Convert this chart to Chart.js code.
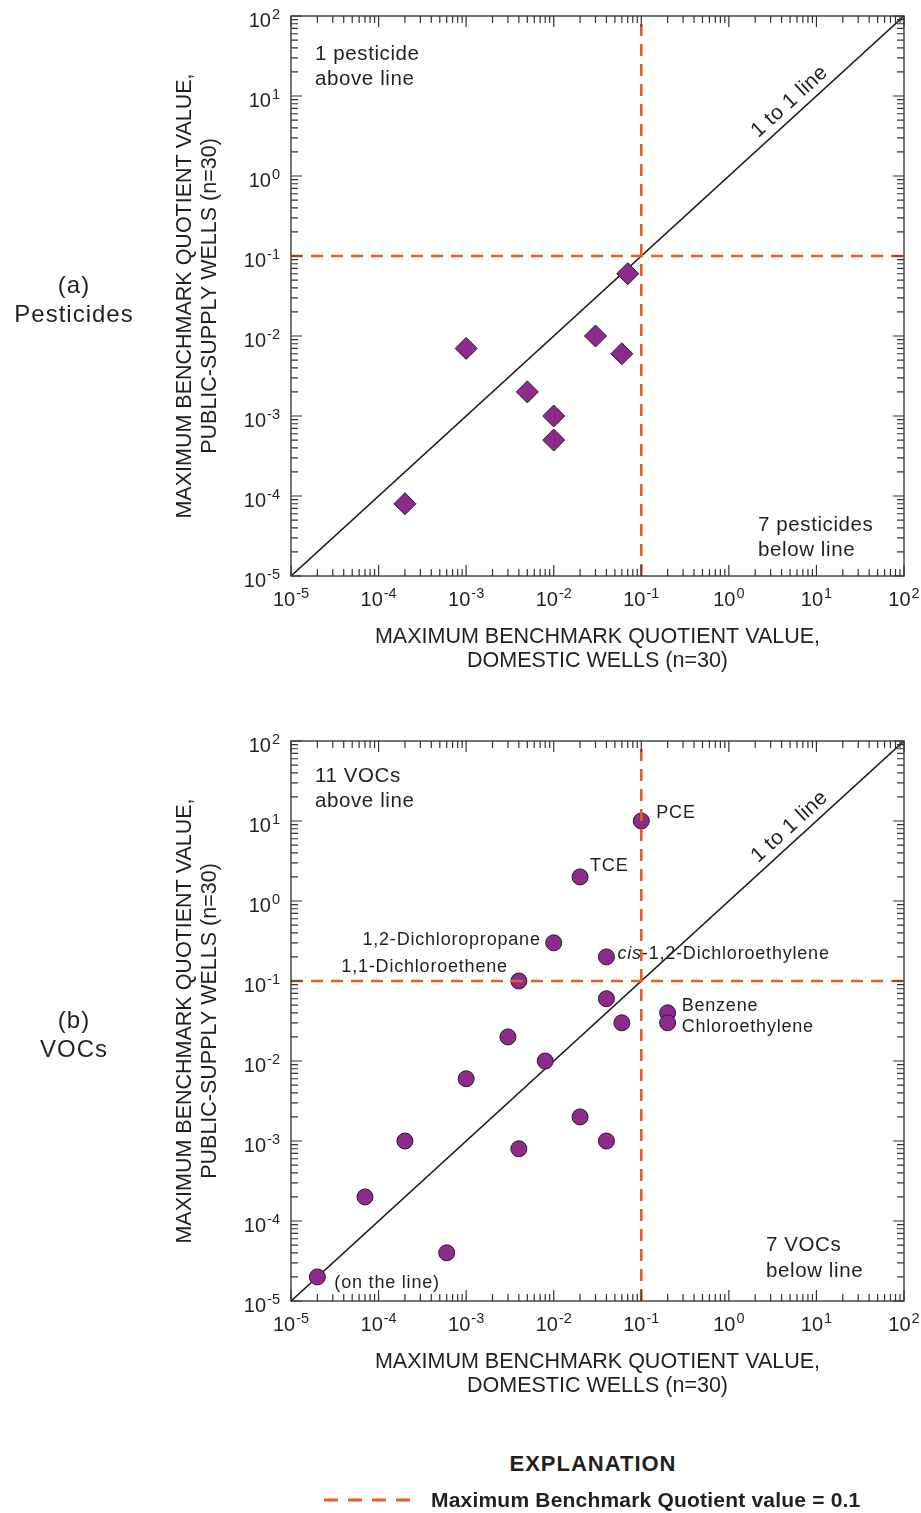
<!DOCTYPE html>
<html>
<head>
<meta charset="utf-8">
<script src="https://cdn.jsdelivr.net/npm/chart.js@4.4.1/dist/chart.umd.min.js"></script>
<style>
  body { margin: 0; background: #fff; width: 921px; height: 1513px; position: relative; overflow: hidden;
         font-family: "Liberation Sans", Arial, sans-serif; color: #231f20; }
  canvas { position: absolute; left: 0; }
  .panel { position: absolute; left: 0; width: 148px; text-align: center; font-size: 24px; letter-spacing: 1px; line-height: 29px; }
  .expl { position: absolute; left: 500px; top: 1451px; width: 186px; text-align: center; font-weight: bold; font-size: 22px; letter-spacing: 1px; }
  .key { position: absolute; left: 431px; top: 1488px; font-weight: bold; font-size: 21px; letter-spacing: 0.2px; white-space: nowrap; }
  svg { position: absolute; left: 0; top: 0; }
</style>
</head>
<body>
<canvas id="graficoPesticidas" width="921" height="700" style="top:0"></canvas>
<canvas id="graficoVOC" width="921" height="700" style="top:725px"></canvas>

<div class="panel" style="top:270px">(a)<br>Pesticides</div>
<div class="panel" style="top:1005px">(b)<br>VOCs</div>

<div class="expl">EXPLANATION</div>
<svg width="921" height="1513"><line x1="324" y1="1500" x2="412" y2="1500" stroke="#e35f24" stroke-width="3" stroke-dasharray="14 10"/></svg>
<div class="key">Maximum Benchmark Quotient value = 0.1</div>

<script>
// =====================================
// DATOS
// =====================================

// exponentes de las marcas de los ejes (10^-5 ... 10^2)
const decadas = [-5, -4, -3, -2, -1, 0, 1, 2];
const umbral = 0.1;

// (a) plaguicidas: domésticos vs abastecimiento público
const pestDomesticos = [2e-4, 1e-3, 5e-3, 1e-2, 1e-2, 0.03, 0.06, 0.07];
const pestPublicos   = [8e-5, 7e-3, 2e-3, 1e-3, 5e-4, 1e-2, 6e-3, 0.06];

// (b) compuestos orgánicos volátiles
const vocNombres = ["PCE", "TCE", "1,2-Dichloropropane", "cis-1,2-Dichloroethylene", "1,1-Dichloroethene",
                    "", "", "Benzene", "Chloroethylene", "", "", "", "", "", "", "", "", "", "(on the line)"];
const vocDomesticos = [0.1, 0.02, 0.01, 0.04, 0.004, 0.04, 0.06, 0.2, 0.2, 0.003, 0.008, 1e-3, 0.02, 0.04, 0.004, 2e-4, 7e-5, 6e-4, 2e-5];
const vocPublicos   = [10, 2, 0.3, 0.2, 0.1, 0.06, 0.03, 0.04, 0.03, 0.02, 0.01, 6e-3, 2e-3, 1e-3, 8e-4, 1e-3, 2e-4, 4e-5, 2e-5];

// colocación de cada rótulo respecto a su punto
const posRotulos = {
    "PCE": { dx: 15, dy: -8, lado: "left" },
    "TCE": { dx: 10, dy: -11, lado: "left" },
    "1,2-Dichloropropane": { dx: -13, dy: -3, lado: "right" },
    "cis-1,2-Dichloroethylene": { dx: 11, dy: -3, lado: "left" },
    "1,1-Dichloroethene": { dx: -11, dy: -14, lado: "right" },
    "Benzene": { dx: 14, dy: -7, lado: "left" },
    "Chloroethylene": { dx: 14, dy: 4, lado: "left" },
    "(on the line)": { dx: 17, dy: 6, lado: "left" }
};

const FUENTE = '"Liberation Sans", Arial, sans-serif';
const NARANJA = "#e35f24";
const MORADO = "#8e2a8c";
const TEXTO = "#231f20";

// =====================================
// PLUGIN: MARCO, MARCAS Y TEXTOS
// =====================================

function potencia(ctx, e, px, py, alinear) {
    ctx.font = "20px " + FUENTE;
    ctx.letterSpacing = "0px";
    const b = ctx.measureText("10").width;
    ctx.font = "14.5px " + FUENTE;
    const s = ctx.measureText(String(e)).width;
    const w = b + s + 1;
    const x0 = alinear === "center" ? px - w / 2 : px - w;
    ctx.textAlign = "left";
    ctx.textBaseline = "alphabetic";
    ctx.font = "20px " + FUENTE;
    ctx.fillText("10", x0, py);
    ctx.font = "14.5px " + FUENTE;
    ctx.fillText(String(e), x0 + b + 1, py - 8);
}

const decoracion = {
    id: "decoracion",
    afterDraw(chart, args, o) {
        const { ctx, chartArea: a, scales: { x, y } } = chart;
        ctx.save();

        // marco
        ctx.strokeStyle = "#4a4a4a";
        ctx.lineWidth = 1.5;
        ctx.strokeRect(a.left, a.top, a.right - a.left, a.bottom - a.top);

        // marcas hacia dentro en los cuatro lados
        ctx.strokeStyle = "#333";
        ctx.lineWidth = 1.2;
        ctx.beginPath();
        decadas.forEach(d => {
            for (let k = 1; k <= 9; k++) {
                if (d === 2 && k > 1) break;
                const v = k * Math.pow(10, d);
                const len = k === 1 ? 11 : 7;
                const px = x.getPixelForValue(v), py = y.getPixelForValue(v);
                ctx.moveTo(px, a.bottom); ctx.lineTo(px, a.bottom - len);
                ctx.moveTo(px, a.top); ctx.lineTo(px, a.top + len);
                ctx.moveTo(a.left, py); ctx.lineTo(a.left + len, py);
                ctx.moveTo(a.right, py); ctx.lineTo(a.right - len, py);
            }
        });
        ctx.stroke();

        // etiquetas de las marcas
        ctx.fillStyle = TEXTO;
        decadas.forEach(d => {
            const v = Math.pow(10, d);
            potencia(ctx, d, x.getPixelForValue(v), a.bottom + 30, "center");
            potencia(ctx, d, a.left - 11, y.getPixelForValue(v) + 11, "right");
        });

        // títulos de los ejes
        ctx.font = "21.5px " + FUENTE;
        ctx.textAlign = "center";
        ctx.textBaseline = "middle";
        const cx = (a.left + a.right) / 2, cy = (a.top + a.bottom) / 2;
        ctx.fillText("MAXIMUM BENCHMARK QUOTIENT VALUE,", cx, a.bottom + 61);
        ctx.fillText("DOMESTIC WELLS (n=30)", cx, a.bottom + 85);
        ctx.save();
        ctx.translate(a.left - 106, cy);
        ctx.rotate(-Math.PI / 2);
        ctx.fillText("MAXIMUM BENCHMARK QUOTIENT VALUE,", 0, 0);
        ctx.fillText("PUBLIC-SUPPLY WELLS (n=30)", 0, 25);
        ctx.restore();

        // notas de conteo
        ctx.font = "20.5px " + FUENTE;
        ctx.letterSpacing = "0.6px";
        ctx.textAlign = "left";
        o.notas.forEach(n => ctx.fillText(n.texto, n.x, a.top + n.y));

        // rótulo de la línea 1 a 1
        const v = Math.pow(10, 0.8);
        const lx = x.getPixelForValue(v), ly = y.getPixelForValue(v);
        const ang = Math.atan2(a.bottom - a.top, a.right - a.left);
        ctx.save();
        ctx.translate(lx - 8 * Math.sin(ang), ly - 8 * Math.cos(ang));
        ctx.rotate(-ang);
        ctx.font = "21px " + FUENTE;
        ctx.letterSpacing = "0.4px";
        ctx.textAlign = "center";
        ctx.textBaseline = "alphabetic";
        ctx.fillText("1 to 1 line", 0, 0);
        ctx.restore();

        // rótulos de compuestos
        if (o.rotulos) {
            ctx.font = "18px " + FUENTE;
            ctx.letterSpacing = "0.8px";
            ctx.textBaseline = "middle";
            o.rotulos.forEach((nom, i) => {
                const p = posRotulos[nom];
                if (!nom || !p) return;
                const px = x.getPixelForValue(o.xs[i]) + p.dx;
                const py = y.getPixelForValue(o.ys[i]) + p.dy;
                if (nom.startsWith("cis-")) {
                    ctx.textAlign = "left";
                    ctx.font = "italic 18px " + FUENTE;
                    ctx.fillText("cis", px, py);
                    const w = ctx.measureText("cis").width;
                    ctx.font = "18px " + FUENTE;
                    ctx.fillText(nom.slice(3), px + w, py);
                    return;
                }
                ctx.textAlign = p.lado;
                ctx.fillText(nom, px, py);
            });
        }
        ctx.restore();
    }
};

// =====================================
// GRAFICOS
// =====================================

function crearGrafico(canvasId, xs, ys, marcador, radio, notas, rotulos) {
    const puntos = xs.map((v, i) => ({ x: v, y: ys[i] }));
    return new Chart(document.getElementById(canvasId), {
        type: "scatter",
        data: {
            datasets: [
                {
                    data: [{ x: umbral, y: 1e-5 }, { x: umbral, y: 1e2 }],
                    showLine: true, borderColor: NARANJA, borderWidth: 2.6, borderDash: [12, 8],
                    pointRadius: 0, order: 0
                },
                {
                    data: [{ x: 1e-5, y: umbral }, { x: 1e2, y: umbral }],
                    showLine: true, borderColor: NARANJA, borderWidth: 2.6, borderDash: [12, 8],
                    pointRadius: 0, order: 0
                },
                {
                    data: puntos,
                    pointStyle: marcador, pointRadius: radio,
                    backgroundColor: MORADO, borderColor: "#2a1a2a", borderWidth: 1,
                    order: 1
                },
                {
                    data: [{ x: 1e-5, y: 1e-5 }, { x: 1e2, y: 1e2 }],
                    showLine: true, borderColor: "#1a1a1a", borderWidth: 1.6,
                    pointRadius: 0, order: 2
                }
            ]
        },
        options: {
            responsive: false,
            animation: false,
            events: [],
            layout: { padding: { top: 16, right: 17, left: 0, bottom: 0 } },
            plugins: {
                legend: { display: false },
                tooltip: { enabled: false },
                decoracion: { notas, rotulos, xs, ys }
            },
            scales: {
                x: {
                    type: "logarithmic", min: 1e-5, max: 1e2,
                    ticks: { display: false }, grid: { display: false }, border: { display: false },
                    afterFit: s => { s.height = 124; }
                },
                y: {
                    type: "logarithmic", min: 1e-5, max: 1e2,
                    ticks: { display: false }, grid: { display: false }, border: { display: false },
                    afterFit: s => { s.width = 291; }
                }
            }
        },
        plugins: [decoracion]
    });
}

crearGrafico("graficoPesticidas", pestDomesticos, pestPublicos, "rectRot", 11, [
    { texto: "1 pesticide", x: 315, y: 38 },
    { texto: "above line", x: 315, y: 63 },
    { texto: "7 pesticides", x: 758, y: 509 },
    { texto: "below line", x: 758, y: 534 }
], null);

crearGrafico("graficoVOC", vocDomesticos, vocPublicos, "circle", 8, [
    { texto: "11 VOCs", x: 315, y: 35 },
    { texto: "above line", x: 315, y: 60 },
    { texto: "7 VOCs", x: 766, y: 504 },
    { texto: "below line", x: 766, y: 530 }
], vocNombres);
</script>
</body>
</html>
